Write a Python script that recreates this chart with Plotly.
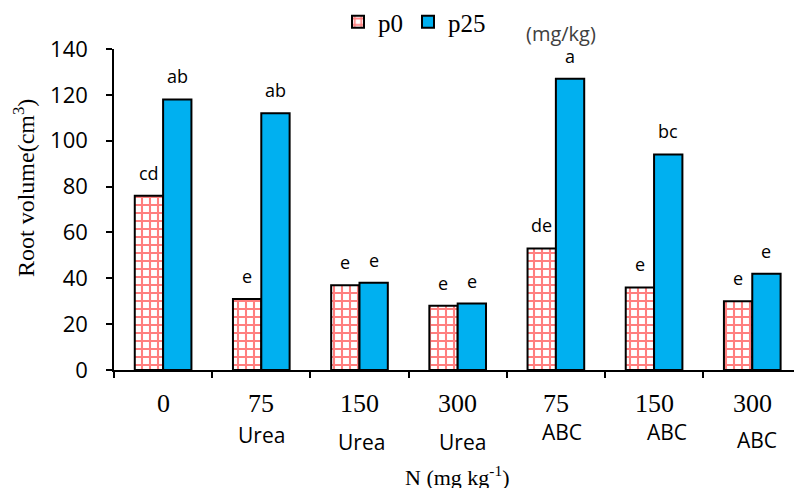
import plotly.graph_objects as go

categories = ["0", "75 Urea", "150 Urea", "300 Urea", "75 ABC", "150 ABC", "300 ABC"]
tick_top = ["0", "75", "150", "300", "75", "150", "300"]
tick_bottom = ["", "Urea", "Urea", "Urea", "ABC", "ABC", "ABC"]
p0_values = [76, 31, 37, 28, 53, 36, 30]
p25_values = [118, 112, 38, 29, 127, 94, 42]
p0_letters = ["cd", "e", "e", "e", "de", "e", "e"]
p25_letters = ["ab", "ab", "e", "e", "a", "bc", "e"]

# style offsets (pixels) for the second tick-label line
bottom_yshift = [0, -65, -72, -72, -62, -62, -70]
bottom_dx = [0, 0, 2, 5, 6, 13, 5]

SERIF = "Liberation Serif"
SANS = "Open Sans"

fig = go.Figure()
fig.add_trace(go.Bar(
    name="p0", x=categories, y=p0_values,
    marker=dict(color="white",
                line=dict(color="black", width=2),
                pattern=dict(shape="+", fgcolor="red", bgcolor="white",
                             size=8, solidity=0.45, fillmode="overlay")),
))
fig.add_trace(go.Bar(
    name="p25", x=categories, y=p25_values,
    marker=dict(color="#00B0F0", line=dict(color="black", width=2)),
))

ann = []
for i, c in enumerate(categories):
    ann.append(dict(x=c, y=p0_values[i], xref="x", yref="y", text=p0_letters[i],
                    showarrow=False, xshift=-14.2, yshift=23,
                    font=dict(family=SANS, size=18, color="black")))
    ann.append(dict(x=c, y=p25_values[i], xref="x", yref="y", text=p25_letters[i],
                    showarrow=False, xshift=14.2, yshift=23,
                    font=dict(family=SANS, size=18, color="black")))
    ann.append(dict(x=c, y=0, xref="x", yref="y", text=tick_top[i],
                    showarrow=False, yshift=-33,
                    font=dict(family=SERIF, size=26, color="black")))
    if tick_bottom[i]:
        ann.append(dict(x=c, y=0, xref="x", yref="y", text=tick_bottom[i],
                        showarrow=False, yshift=bottom_yshift[i], xshift=bottom_dx[i],
                        font=dict(family=SANS, size=21, color="black")))

ann.append(dict(x=(457 - 114) / 680, y=(370 - 476) / 321, xref="paper", yref="paper",
                xanchor="center", yanchor="middle",
                text="N (mg kg<sup>-1</sup>)", showarrow=False,
                font=dict(family=SERIF, size=22, color="black")))
ann.append(dict(x=(24 - 114) / 680, y=(370 - 188) / 321, xref="paper", yref="paper",
                xanchor="center", yanchor="middle",
                text="Root volume(cm<sup>3</sup>)", textangle=-90, showarrow=False,
                font=dict(family=SERIF, size=24, color="black")))
ann.append(dict(x=(561 - 114) / 680, y=1 + (49 - 33) / 321, xref="paper", yref="paper",
                xanchor="center", yanchor="middle",
                text="(mg/kg)", showarrow=False,
                font=dict(family=SANS, size=20, color="#404040")))

fig.update_layout(
    width=794, height=488,
    margin=dict(l=114, r=0, t=49, b=118, autoexpand=False),
    paper_bgcolor="white", plot_bgcolor="white",
    barmode="group", bargap=0.423, bargroupgap=0,
    showlegend=True,
    legend=dict(orientation="h", x=(338 - 114) / 680, y=1 + 50 / 321,
                xanchor="left", yanchor="top",
                font=dict(family=SERIF, size=25, color="black"),
                bgcolor="rgba(0,0,0,0)", itemwidth=30, traceorder="normal"),
    annotations=ann,
    xaxis=dict(range=[-0.5, 6.425], showline=True, linecolor="black", linewidth=1.5,
               showticklabels=False, ticks="outside", tickson="boundaries",
               ticklen=6, tickcolor="black", tickwidth=1.5, showgrid=False, fixedrange=True),
    yaxis=dict(range=[0, 140], dtick=20, showline=True, linecolor="black", linewidth=1.5,
               ticks="outside", ticklen=6, tickcolor="black", tickwidth=1.5,
               showgrid=False, zeroline=False, fixedrange=True,
               tickfont=dict(family=SANS, size=22, color="black"),
               ticklabelstandoff=14),
)

fig.write_html("out.html", config={"displayModeBar": False},
               post_script="document.body.style.margin='0';document.body.style.padding='0';")
